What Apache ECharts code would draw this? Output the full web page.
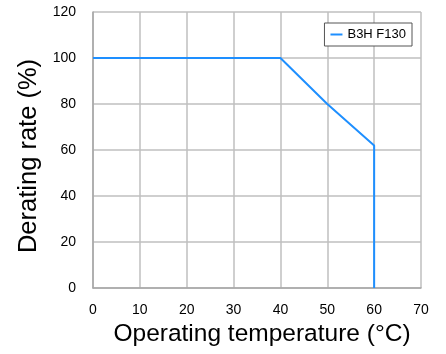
<!DOCTYPE html>
<html>
<head>
<meta charset="utf-8">
<script src="https://cdn.jsdelivr.net/npm/echarts@6/dist/echarts.min.js"></script>
<style>
  html, body { margin: 0; padding: 0; background: #fff; }
  #chart { width: 446px; height: 354px; }
</style>
</head>
<body>
<div id="chart"></div>
<script>
// derating curve
const tempC = [0, 40, 50, 60, 60]
const rate = [100, 100, 80, 62, 0]
const seriesName = 'B3H F130'

const chart = echarts.init(document.getElementById('chart'))
const font = '"Liberation Sans", Arial, sans-serif'

const option = {
  animation: false,
  grid: { left: 93, right: 25, top: 12, bottom: 66 },
  legend: {
    data: [seriesName],
    right: 34,
    top: 23,
    padding: [5, 6, 5, 6],
    borderColor: '#555',
    borderWidth: 1,
    backgroundColor: '#fff',
    itemWidth: 12,
    itemHeight: 2,
    itemGap: 4,
    icon: 'rect',
    textStyle: { fontFamily: font, fontSize: 13, color: '#000' }
  },
  xAxis: {
    type: 'value',
    min: 0,
    max: 70,
    interval: 10,
    name: 'Operating temperature (°C)',
    nameLocation: 'middle',
    nameGap: 33,
    nameTextStyle: { fontFamily: font, fontSize: 24.5, color: '#000', padding: [0, 0, 0, 10] },
    axisLine: { lineStyle: { color: '#a6a6a6', width: 1.5 } },
    axisTick: { show: false },
    axisLabel: { fontFamily: font, fontSize: 14, color: '#000', margin: 15 },
    splitLine: { show: true, lineStyle: { color: '#bfbfbf', width: 1.5 } }
  },
  yAxis: {
    type: 'value',
    min: 0,
    max: 120,
    interval: 20,
    name: 'Derating rate (%)',
    nameLocation: 'middle',
    nameGap: 48,
    nameTextStyle: { fontFamily: font, fontSize: 25.5, color: '#000', padding: [0, 12, 0, 0] },
    axisLine: { show: true, lineStyle: { color: '#a6a6a6', width: 1.5 } },
    axisTick: { show: false },
    axisLabel: { fontFamily: font, fontSize: 14, color: '#000', margin: 17 },
    splitLine: { show: true, lineStyle: { color: '#bfbfbf', width: 1.5 } }
  },
  series: [
    {
      name: seriesName,
      type: 'line',
      showSymbol: false,
      symbol: 'none',
      color: '#1e8fff',
      lineStyle: { width: 2, color: '#1e8fff' },
      data: tempC.map((t, i) => [t, rate[i]])
    }
  ]
}
chart.setOption(option)
</script>
</body>
</html>
